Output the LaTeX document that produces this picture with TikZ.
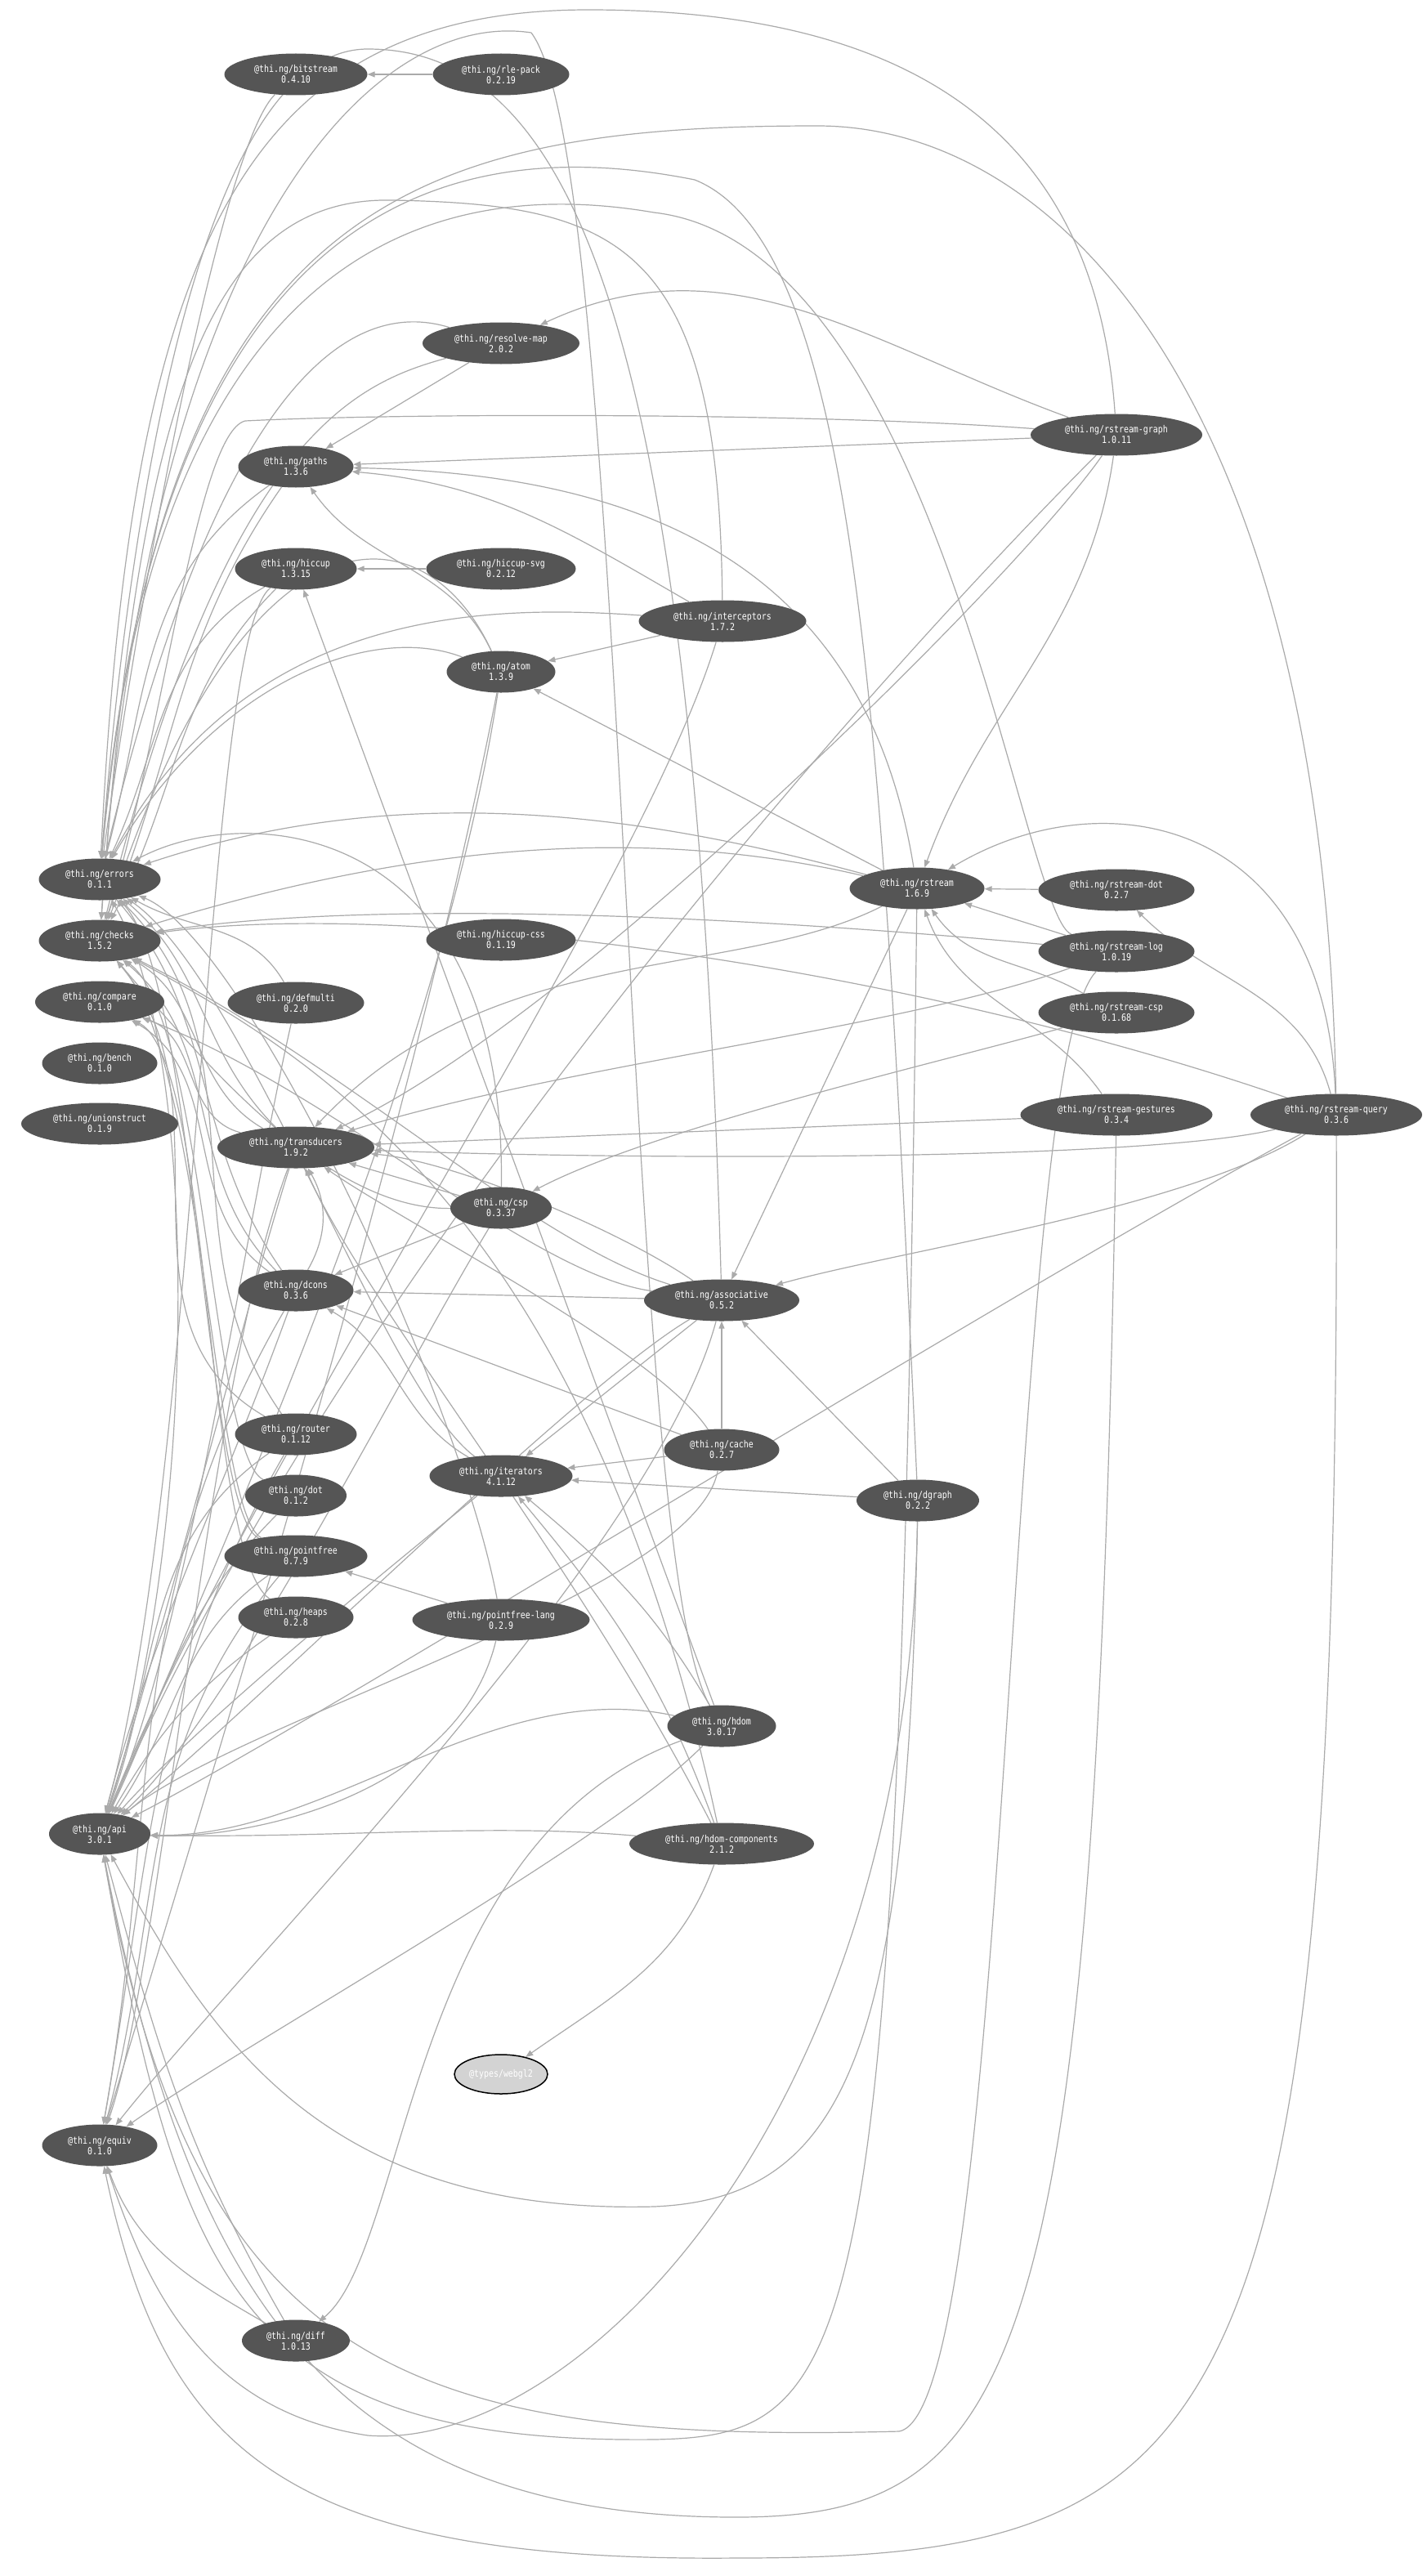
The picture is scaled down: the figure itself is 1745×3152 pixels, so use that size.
\documentclass[tikz,border=0pt]{standalone}
\usepackage{fontspec}
\usetikzlibrary{shapes.geometric,arrows.meta}
\newfontfamily\pkgfam[FakeStretch=0.83]{DejaVu Sans Mono}
\definecolor{nodegray}{HTML}{555555}
\definecolor{edgegray}{HTML}{AAAAAA}
\definecolor{extgray}{HTML}{D3D3D3}
\pgfdeclarelayer{bg}
\pgfsetlayers{bg,main}
\tikzset{
 pkg/.style={ellipse, fill=nodegray, text=white, inner sep=0pt, minimum height=51pt, align=center, font=\pkgfam\fontsize{12}{13}\selectfont},
 ext/.style={ellipse, fill=extgray, draw=black, line width=1.5pt, text=white, inner sep=0pt, minimum height=48pt, minimum width=114pt, font=\pkgfam\fontsize{12}{13}\selectfont},
 dep/.style={draw=edgegray, line width=1.2pt, -{Triangle[length=9pt,width=7pt]}}
}
\begin{document}
\begin{tikzpicture}[x=1pt,y=1pt]
\useasboundingbox (0,0) rectangle (1745,-3152);
\node[pkg, minimum width=175pt] (bitstream) at (362,-91) {@thi.ng/bitstream\\0.4.10};
\node[pkg, minimum width=167pt] (rlepack) at (613,-91) {@thi.ng/rle-pack\\0.2.19};
\node[pkg, minimum width=192pt] (resolvemap) at (613,-420) {@thi.ng/resolve-map\\2.0.2};
\node[pkg, minimum width=210pt] (rgraph) at (1366,-532) {@thi.ng/rstream-graph\\1.0.11};
\node[pkg, minimum width=141pt] (paths) at (362,-571) {@thi.ng/paths\\1.3.6};
\node[pkg, minimum width=149pt] (hiccup) at (362,-696) {@thi.ng/hiccup\\1.3.15};
\node[pkg, minimum width=183pt] (hiccupsvg) at (613,-696) {@thi.ng/hiccup-svg\\0.2.12};
\node[pkg, minimum width=205pt] (interceptors) at (884,-760) {@thi.ng/interceptors\\1.7.2};
\node[pkg, minimum width=133pt] (atom) at (613,-822) {@thi.ng/atom\\1.3.9};
\node[pkg, minimum width=149pt] (errors) at (122,-1076) {@thi.ng/errors\\0.1.1};
\node[pkg, minimum width=165pt] (rstream) at (1122,-1087) {@thi.ng/rstream\\1.6.9};
\node[pkg, minimum width=191pt] (rdot) at (1366,-1089) {@thi.ng/rstream-dot\\0.2.7};
\node[pkg, minimum width=149pt] (checks) at (122,-1151) {@thi.ng/checks\\1.5.2};
\node[pkg, minimum width=183pt] (hiccupcss) at (613,-1150) {@thi.ng/hiccup-css\\0.1.19};
\node[pkg, minimum width=191pt] (rlog) at (1366,-1164) {@thi.ng/rstream-log\\1.0.19};
\node[pkg, minimum width=158pt] (compare) at (122,-1226) {@thi.ng/compare\\0.1.0};
\node[pkg, minimum width=167pt] (defmulti) at (362,-1227) {@thi.ng/defmulti\\0.2.0};
\node[pkg, minimum width=191pt] (rcsp) at (1366,-1239) {@thi.ng/rstream-csp\\0.1.68};
\node[pkg, minimum width=141pt] (bench) at (122,-1301) {@thi.ng/bench\\0.1.0};
\node[pkg, minimum width=235pt] (rgestures) at (1366,-1364) {@thi.ng/rstream-gestures\\0.3.4};
\node[pkg, minimum width=210pt] (rquery) at (1635,-1364) {@thi.ng/rstream-query\\0.3.6};
\node[pkg, minimum width=192pt] (unionstruct) at (122,-1375) {@thi.ng/unionstruct\\0.1.9};
\node[pkg, minimum width=192pt] (transducers) at (362,-1404) {@thi.ng/transducers\\1.9.2};
\node[pkg, minimum width=124pt] (csp) at (613,-1478) {@thi.ng/csp\\0.3.37};
\node[pkg, minimum width=141pt] (dcons) at (362,-1579) {@thi.ng/dcons\\0.3.6};
\node[pkg, minimum width=190pt] (associative) at (883,-1591) {@thi.ng/associative\\0.5.2};
\node[pkg, minimum width=149pt] (router) at (362,-1755) {@thi.ng/router\\0.1.12};
\node[pkg, minimum width=141pt] (cache) at (883,-1774) {@thi.ng/cache\\0.2.7};
\node[pkg, minimum width=175pt] (iterators) at (613,-1806) {@thi.ng/iterators\\4.1.12};
\node[pkg, minimum width=124pt] (dot) at (362,-1830) {@thi.ng/dot\\0.1.2};
\node[pkg, minimum width=150pt] (dgraph) at (1123,-1836) {@thi.ng/dgraph\\0.2.2};
\node[pkg, minimum width=175pt] (pointfree) at (362,-1904) {@thi.ng/pointfree\\0.7.9};
\node[pkg, minimum width=141pt] (heaps) at (362,-1979) {@thi.ng/heaps\\0.2.8};
\node[pkg, minimum width=217pt] (pfl) at (613,-1982) {@thi.ng/pointfree-lang\\0.2.9};
\node[pkg, minimum width=133pt] (hdom) at (883,-2112) {@thi.ng/hdom\\3.0.17};
\node[pkg, minimum width=124pt] (api) at (122,-2244) {@thi.ng/api\\3.0.1};
\node[pkg, minimum width=226pt] (hdomc) at (883,-2256) {@thi.ng/hdom-components\\2.1.2};
\node[ext] (webgl2) at (613,-2538) {@types/webgl2};
\node[pkg, minimum width=141pt] (equiv) at (122,-2625) {@thi.ng/equiv\\0.1.0};
\node[pkg, minimum width=132pt] (diff) at (362,-2864) {@thi.ng/diff\\1.0.13};
\begin{pgfonlayer}{bg}
\fill[white] (0,0) rectangle (1745,-3152);
% bitstream
\draw[dep] (rlepack) -- (bitstream);
\draw[dep] (bitstream) .. controls (280,-170) and (190,-600) .. (errors);
% resolve-map
\draw[dep] (resolvemap) -- (paths);
\draw[dep] (resolvemap) .. controls (450,-370) and (280,-420) .. (errors);
\draw[dep] (resolvemap) .. controls (430,-470) and (275,-540) .. (checks);
% rstream-graph
\draw[dep] (rgraph) to[out=160,in=25] (resolvemap);
\draw[dep] (rgraph) -- (paths);
\draw[dep] (rgraph) .. controls (1340,-150) and (1100,-12) .. (720,-12) .. controls (300,-12) and (160,-300) .. (errors);
\draw[dep] (rgraph) .. controls (1000,-505) and (500,-505) .. (300,-515) .. controls (240,-530) and (200,-900) .. (checks);
\draw[dep] (rgraph) to[out=262,in=70] (rstream);
\draw[dep] (rgraph) .. controls (1250,-700) and (700,-1250) .. (transducers);
\draw[dep] (rgraph) .. controls (1000,-900) and (400,-1600) .. (api);
% paths
\draw[dep] (paths) to[out=215,in=75] (errors);
\draw[dep] (paths) to[out=235,in=68] (checks);
% hiccup
\draw[dep] (hiccup) to[out=210,in=65] (errors);
\draw[dep] (hiccup) to[out=225,in=62] (checks);
\draw[dep] (hiccup) .. controls (250,-780) and (245,-1800) .. (api);
\draw[dep] (hiccupsvg) -- (hiccup);
% interceptors
\draw[dep] (interceptors) -- (atom);
\draw[dep] (interceptors) to[out=150,in=-5] (paths);
\draw[dep] (interceptors) .. controls (600,-740) and (300,-740) .. (errors);
\draw[dep] (interceptors) .. controls (880,-300) and (760,-250) .. (480,-245) .. controls (250,-240) and (170,-500) .. (checks);
\draw[dep] (interceptors) .. controls (780,-1100) and (300,-1800) .. (api);
% atom
\draw[dep] (atom) to[out=115,in=-55] (paths);
\draw[dep] (atom) .. controls (450,-760) and (260,-840) .. (errors);
\draw[dep] (atom) .. controls (520,-620) and (300,-600) .. (checks);
\draw[dep] (atom) .. controls (500,-1400) and (250,-2200) .. (equiv);
\draw[dep] (atom) .. controls (540,-1300) and (270,-1900) .. (api);
% rstream
\draw[dep] (rstream) -- (atom);
\draw[dep] (rstream) .. controls (1060,-700) and (800,-580) .. (paths);
\draw[dep] (rstream) -- (associative);
\draw[dep] (rstream) .. controls (800,-1000) and (500,-950) .. (errors);
\draw[dep] (rstream) .. controls (750,-1000) and (450,-1050) .. (checks);
\draw[dep] (rstream) .. controls (900,-1200) and (600,-1150) .. (transducers);
\draw[dep] (rstream) .. controls (1100,-2900) and (1050,-2980) .. (800,-2985) .. controls (300,-2990) and (220,-2800) .. (api);
% rstream-csp, dot, gestures
\draw[dep] (rcsp) .. controls (1150,-1300) and (800,-1380) .. (csp);
\draw[dep] (rcsp) to[out=150,in=-55] (rstream);
\draw[dep] (rdot) -- (rstream);
\draw[dep] (rgestures) to[out=125,in=-70] (rstream);
\draw[dep] (rgestures) -- (transducers);
\draw[dep] (rgestures) .. controls (1340,-2900) and (1250,-3080) .. (900,-3080) .. controls (400,-3080) and (230,-2800) .. (api);
% rstream-log
\draw[dep] (rlog) -- (rstream);
\draw[dep] (rlog) .. controls (1250,-1120) and (1150,-300) .. (800,-260) .. controls (450,-200) and (180,-400) .. (errors);
\draw[dep] (rlog) .. controls (900,-1120) and (450,-1100) .. (checks);
\draw[dep] (rlog) .. controls (1100,-1260) and (700,-1300) .. (transducers);
\draw[dep] (rlog) .. controls (1230,-1300) and (1240,-2950) .. (1100,-2975) .. controls (500,-2990) and (240,-2900) .. (api);
% rstream-query
\draw[dep] (rquery) .. controls (1620,-1000) and (1350,-950) .. (rstream);
\draw[dep] (rquery) to[out=105,in=-45] (rdot);
\draw[dep] (rquery) .. controls (1450,-1480) and (1100,-1530) .. (associative);
\draw[dep] (rquery) .. controls (1400,-1420) and (800,-1420) .. (transducers);
\draw[dep] (rquery) .. controls (1620,-500) and (1300,-154) .. (1000,-154) .. controls (500,-154) and (200,-250) .. (errors);
\draw[dep] (rquery) .. controls (1100,-1180) and (500,-1100) .. (checks);
\draw[dep] (rquery) .. controls (1640,-3000) and (1500,-3130) .. (900,-3130) .. controls (350,-3135) and (200,-3000) .. (equiv);
\draw[dep] (rquery) .. controls (1200,-1600) and (400,-2100) .. (api);
% transducers
\draw[dep] (transducers) .. controls (300,-1600) and (200,-2000) .. (api);
\draw[dep] (transducers) to[out=150,in=-30] (checks);
\draw[dep] (transducers) to[out=165,in=-20] (compare);
\draw[dep] (transducers) to[out=135,in=-40] (errors);
\draw[dep] (transducers) .. controls (250,-1700) and (200,-2400) .. (equiv);
% csp
\draw[dep] (csp) -- (dcons);
\draw[dep] (csp) -- (transducers);
\draw[dep] (csp) .. controls (480,-1700) and (280,-2100) .. (api);
\draw[dep] (csp) .. controls (400,-1480) and (250,-1300) .. (checks);
\draw[dep] (csp) .. controls (620,-1000) and (300,-980) .. (errors);
% dcons
\draw[dep] (dcons) to[out=250,in=75] (api);
\draw[dep] (dcons) to[out=135,in=-40] (checks);
\draw[dep] (dcons) to[out=145,in=-30] (compare);
\draw[dep] (dcons) to[out=240,in=80] (equiv);
\draw[dep] (dcons) to[out=125,in=-50] (errors);
\draw[dep] (dcons) to[out=60,in=-60] (transducers);
% defmulti
\draw[dep] (defmulti) .. controls (300,-1500) and (230,-2000) .. (api);
\draw[dep] (defmulti) to[out=120,in=-30] (errors);
% associative
\draw[dep] (associative) -- (dcons);
\draw[dep] (associative) -- (iterators);
\draw[dep] (associative) .. controls (700,-1700) and (300,-2100) .. (api);
\draw[dep] (associative) .. controls (650,-1520) and (420,-1300) .. (checks);
\draw[dep] (associative) .. controls (650,-1560) and (400,-1330) .. (compare);
\draw[dep] (associative) .. controls (800,-1900) and (300,-2400) .. (equiv);
\draw[dep] (associative) .. controls (850,-400) and (700,-60) .. (450,-60) .. controls (250,-60) and (160,-600) .. (errors);
\draw[dep] (associative) .. controls (750,-1500) and (550,-1420) .. (transducers);
% cache
\draw[dep] (cache) -- (associative);
\draw[dep] (cache) -- (dcons);
\draw[dep] (cache) -- (iterators);
\draw[dep] (cache) .. controls (800,-1650) and (500,-1500) .. (transducers);
\draw[dep] (cache) .. controls (850,-1950) and (300,-2100) .. (api);
% dgraph
\draw[dep] (dgraph) -- (associative);
\draw[dep] (dgraph) -- (iterators);
\draw[dep] (dgraph) .. controls (1080,-900) and (1050,-300) .. (850,-220) .. controls (500,-150) and (190,-300) .. (errors);
\draw[dep] (dgraph) .. controls (1110,-2500) and (1040,-2690) .. (800,-2700) .. controls (400,-2710) and (260,-2500) .. (api);
\draw[dep] (dgraph) .. controls (1110,-2600) and (700,-3000) .. (450,-2980) .. controls (250,-2950) and (180,-2800) .. (equiv);
% diff, dot
\draw[dep] (diff) to[out=120,in=-75] (api);
\draw[dep] (diff) to[out=150,in=-70] (equiv);
\draw[dep] (dot) to[out=225,in=65] (api);
\draw[dep] (dot) .. controls (260,-1780) and (250,-1250) .. (checks);
% hdom
\draw[dep] (hdom) -- (hiccup);
\draw[dep] (hdom) to[out=120,in=-40] (iterators);
\draw[dep] (hdom) .. controls (500,-2250) and (500,-2750) .. (diff);
\draw[dep] (hdom) .. controls (600,-2050) and (400,-2250) .. (api);
\draw[dep] (hdom) .. controls (750,-2250) and (300,-2500) .. (equiv);
\draw[dep] (hdom) .. controls (760,-1900) and (770,-200) .. (650,-40) .. controls (450,-10) and (180,-300) .. (checks);
% hdom-components
\draw[dep] (hdomc) .. controls (600,-2230) and (400,-2250) .. (api);
\draw[dep] (hdomc) .. controls (720,-1500) and (400,-1300) .. (checks);
\draw[dep] (hdomc) to[out=110,in=-50] (iterators);
\draw[dep] (hdomc) .. controls (700,-1900) and (450,-1600) .. (transducers);
\draw[dep] (hdomc) to[out=250,in=35] (webgl2);
% heaps
\draw[dep] (heaps) to[out=215,in=60] (api);
\draw[dep] (heaps) .. controls (250,-1900) and (260,-1300) .. (compare);
% iterators
\draw[dep] (iterators) .. controls (500,-1900) and (250,-2100) .. (api);
\draw[dep] (iterators) to[out=150,in=-30] (dcons);
\draw[dep] (iterators) .. controls (470,-1700) and (300,-1200) .. (errors);
% pointfree
\draw[dep] (pointfree) to[out=215,in=55] (api);
\draw[dep] (pointfree) .. controls (260,-1850) and (250,-1300) .. (checks);
\draw[dep] (pointfree) to[out=230,in=75] (equiv);
\draw[dep] (pointfree) .. controls (250,-1850) and (240,-1200) .. (errors);
% pointfree-lang
\draw[dep] (pfl) -- (pointfree);
\draw[dep] (pfl) .. controls (560,-2200) and (300,-2250) .. (api);
\draw[dep] (pfl) .. controls (560,-1700) and (300,-1150) .. (errors);
% router
\draw[dep] (router) to[out=215,in=70] (api);
\draw[dep] (router) to[out=150,in=-50] (checks);
\draw[dep] (router) to[out=240,in=80] (equiv);
\draw[dep] (router) to[out=125,in=-45] (errors);
% api
\draw[dep] (api) .. controls (240,-1900) and (250,-1300) .. (errors);
\end{pgfonlayer}
\end{tikzpicture}
\end{document}
